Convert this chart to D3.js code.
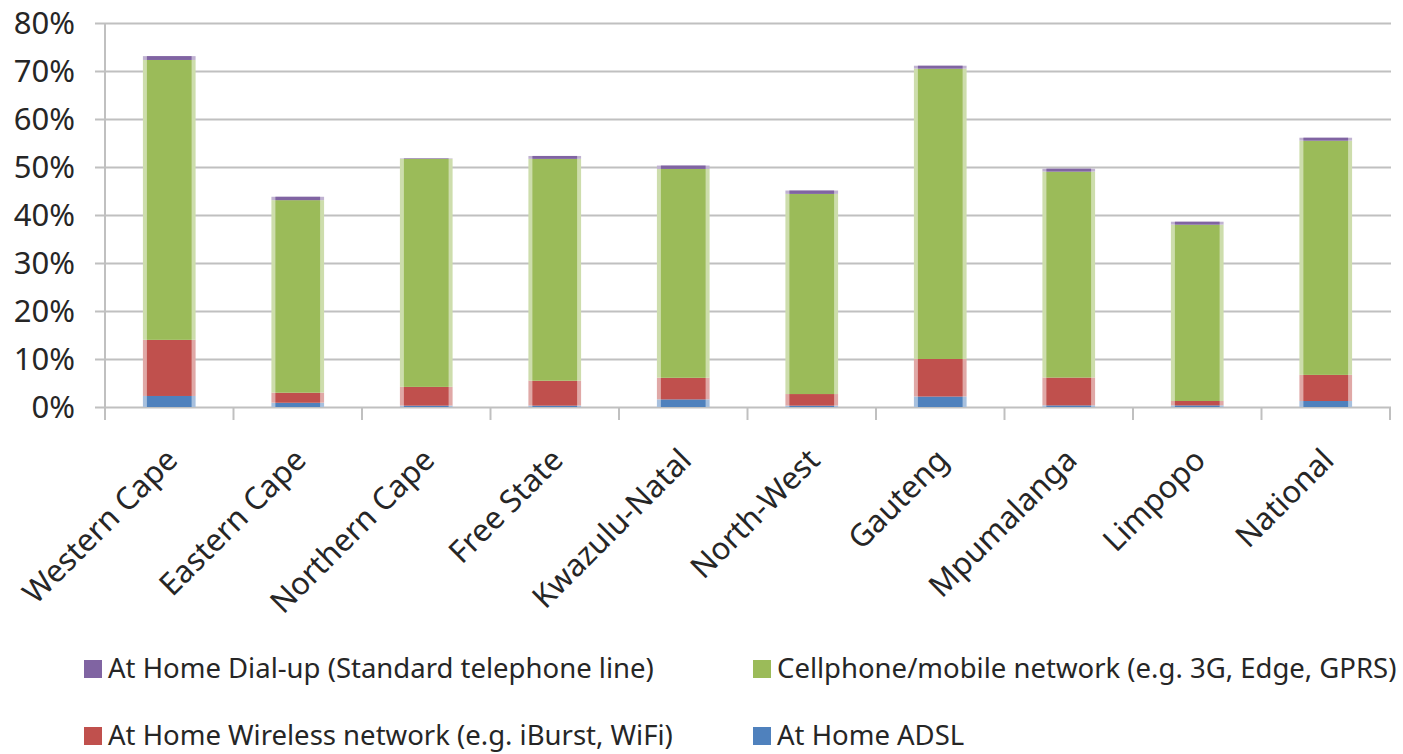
<!DOCTYPE html>
<html>
<head>
<meta charset="utf-8">
<script src="https://cdn.jsdelivr.net/npm/d3@7"></script>
<style>
  body { margin: 0; background: #fff; }
  svg text { font-family: "Noto Sans", "Open Sans", sans-serif; fill: #262626; }
  .grid line { stroke: #c0c0c0; stroke-width: 2; }
  .grid .domain { display: none; }
  .xAxis .domain { display: none; }
</style>
</head>
<body>
<div id="vis"><svg></svg></div>
<script>
// provinces
const categories = ['Western Cape', 'Eastern Cape', 'Northern Cape', 'Free State', 'Kwazulu-Natal',
                    'North-West', 'Gauteng', 'Mpumalanga', 'Limpopo', 'National'];

// % of households
const adsl      = [2.3, 0.9, 0.3, 0.3, 1.6, 0.3, 2.2, 0.35, 0.35, 1.25];
const wireless  = [11.7, 2.1, 3.9, 5.2, 4.5, 2.4, 7.8, 5.8, 0.9, 5.45];
const cellphone = [58.3, 40.1, 47.5, 46.2, 43.5, 41.7, 60.5, 42.9, 36.75, 48.8];
const dialup    = [0.8, 0.7, 0.1, 0.6, 0.7, 0.7, 0.6, 0.6, 0.6, 0.6];

const yTicks = [0, 10, 20, 30, 40, 50, 60, 70, 80];

const seriesNames = {
  adsl: 'At Home ADSL',
  wireless: 'At Home Wireless network (e.g. iBurst, WiFi)',
  cellphone: 'Cellphone/mobile network (e.g. 3G, Edge, GPRS)',
  dialup: 'At Home Dial-up (Standard telephone line)'
};
const colours = {adsl: '#4f81bd', wireless: '#c0504d', cellphone: '#9bbb59', dialup: '#8064a2'};
// legend goes in the order excel shows it
const legendOrder = ['dialup', 'cellphone', 'wireless', 'adsl'];

const rows = categories.map((c, i) => ({
  name: c, adsl: adsl[i], wireless: wireless[i], cellphone: cellphone[i], dialup: dialup[i]
}));

var W = 1403, H = 754;
var svg = d3.select('#vis').select('svg')
  .attr('width', W).attr('height', H);

let x = d3.scaleBand()
  .domain(categories)
  .range([105, 1390])
  .paddingInner(0.59)
  .paddingOuter(0.295);

let y = d3.scaleLinear()
  .domain([0, 80])
  .range([407, 23]);

// gridlines + y labels
svg.append('g')
  .attr('class', 'grid')
  .attr('transform', 'translate(95,0)')
  .call(d3.axisLeft(y)
    .tickValues(yTicks)
    .tickSize(-(1391 - 95))
    .tickPadding(20)
    .tickFormat(d => d + '%'))
  .selectAll('text')
    .style('font-size', '31px')
    .attr('dy', '0.34em');

// vertical axis line
svg.append('line')
  .attr('x1', 105).attr('x2', 105)
  .attr('y1', y(80)).attr('y2', y(0) + 13)
  .attr('stroke', '#c0c0c0').attr('stroke-width', 2);

// category separators under the axis
svg.append('g')
  .selectAll('line')
  .data(d3.range(categories.length + 1))
  .enter().append('line')
  .attr('x1', i => 105 + i * x.step())
  .attr('x2', i => 105 + i * x.step())
  .attr('y1', y(0))
  .attr('y2', y(0) + 13)
  .attr('stroke', '#c0c0c0').attr('stroke-width', 2);

// stacked bars
let stack = d3.stack().keys(['adsl', 'wireless', 'cellphone', 'dialup']);
let layers = stack(rows);

let layer = svg.append('g').selectAll('g.layer')
  .data(layers)
  .enter().append('g')
  .attr('class', 'layer');

// pale edge like in the original bitmap
layer.selectAll('rect.edge')
  .data(d => d.map(p => ({key: d.key, p: p})))
  .enter().append('rect')
  .attr('class', 'edge')
  .attr('x', d => x(d.p.data.name))
  .attr('width', x.bandwidth())
  .attr('y', d => y(d.p[1]))
  .attr('height', d => y(d.p[0]) - y(d.p[1]))
  .style('fill', d => d3.interpolateRgb(colours[d.key], '#fff')(0.5));

layer.selectAll('rect.bar')
  .data(d => d.map(p => ({key: d.key, p: p})))
  .enter().append('rect')
  .attr('class', 'bar')
  .attr('x', d => x(d.p.data.name) + 4)
  .attr('width', x.bandwidth() - 8)
  .attr('y', d => y(d.p[1]))
  .attr('height', d => y(d.p[0]) - y(d.p[1]))
  .style('fill', d => colours[d.key]);

// category labels, rotated
svg.append('g')
  .attr('class', 'xAxis')
  .attr('transform', `translate(0,${y(0)})`)
  .call(d3.axisBottom(x).tickSize(0).tickPadding(0))
  .selectAll('text')
    .style('font-size', '31px')
    .style('text-anchor', 'end')
    .attr('x', 0).attr('y', 0).attr('dy', 0)
    .attr('transform', 'translate(10,55) rotate(-45)');

// legend, 2 x 2
let legend = svg.append('g').selectAll('g.leg')
  .data(legendOrder)
  .enter().append('g')
  .attr('class', 'leg')
  .attr('transform', (d, i) => `translate(${i % 2 ? 753 : 84},${i < 2 ? 669 : 736})`);

legend.append('rect')
  .attr('x', 0).attr('y', -9)
  .attr('width', 18).attr('height', 18)
  .style('fill', d => colours[d]);

legend.append('text')
  .attr('x', 24)
  .attr('dy', '0.34em')
  .style('font-size', '27.5px')
  .text(d => seriesNames[d]);
</script>
</body>
</html>
